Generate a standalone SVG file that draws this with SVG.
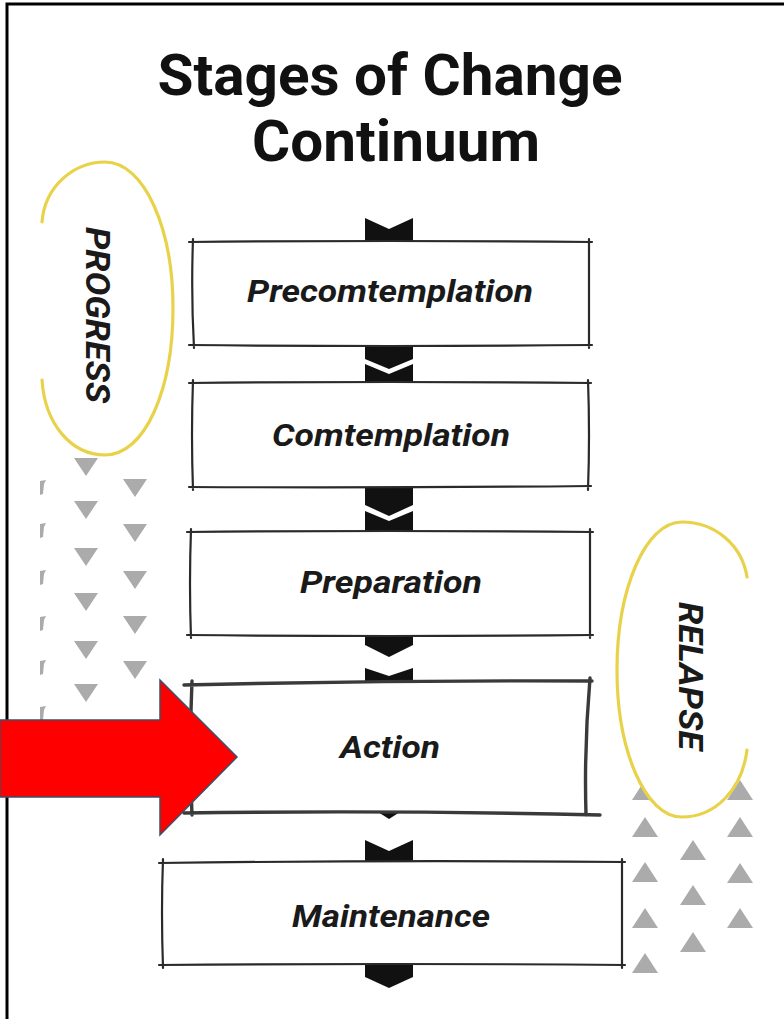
<svg xmlns="http://www.w3.org/2000/svg" xmlns:xlink="http://www.w3.org/1999/xlink" width="784" height="1019" viewBox="0 0 784 1019">
  <defs>
    <style>
      .title { font-family: Roboto, "Liberation Sans", sans-serif; font-weight: 700; font-size: 58px; fill: #111; text-anchor: middle; }
      .lbl { font-family: Roboto, "Liberation Sans", sans-serif; font-weight: 700; font-style: italic; font-size: 32px; fill: #1a1a1a; text-anchor: middle; }
      .side { font-family: Roboto, "Liberation Sans", sans-serif; font-weight: 700; font-style: italic; font-size: 34px; fill: #1a1a1a; text-anchor: middle; }
      .box { fill: #fff; stroke: none; }
      .edge { fill: none; stroke: #2a2a2a; stroke-width: 2.2; stroke-linecap: round; }
      .edge-b { fill: none; stroke: #3a3a3a; stroke-width: 3.4; stroke-linecap: round; }
      .chev { fill: #111; }
      .tri { fill: #ababab; }
      .loop { fill: #fff; stroke: #e8d24a; stroke-width: 3.2; stroke-linecap: round; }
    </style>
    <polygon id="td" points="-12,-9 12,-9 0,9"/>
    <polygon id="tu" points="0,-10 13,10 -13,10"/>
  </defs>

  <rect x="0" y="0" width="784" height="1019" fill="#fff"/>

  <!-- frame -->
  <path d="M7 1019 V4 H784" fill="none" stroke="#000" stroke-width="3"/>

  <!-- title -->
  <text class="title" x="390" y="95" textLength="465" lengthAdjust="spacingAndGlyphs">Stages of Change</text>
  <text class="title" x="396" y="161" textLength="288" lengthAdjust="spacingAndGlyphs">Continuum</text>

  <!-- left triangles (pointing down) -->
  <g class="tri">
    <use xlink:href="#td" x="86" y="467"/>
    <use xlink:href="#td" x="86" y="510"/>
    <use xlink:href="#td" x="86" y="557"/>
    <use xlink:href="#td" x="86" y="602"/>
    <use xlink:href="#td" x="86" y="650"/>
    <use xlink:href="#td" x="86" y="693"/>
    <use xlink:href="#td" x="135" y="488"/>
    <use xlink:href="#td" x="135" y="533"/>
    <use xlink:href="#td" x="135" y="580"/>
    <use xlink:href="#td" x="135" y="625"/>
    <use xlink:href="#td" x="135" y="670"/>
    <polygon points="40,481 46,480 44,484 43,494 40,495"/>
    <polygon points="40,524 46,523 44,527 43,537 40,538"/>
    <polygon points="40,571 46,570 44,574 43,584 40,585"/>
    <polygon points="40,617 46,616 44,620 43,630 40,631"/>
    <polygon points="40,661 46,660 44,664 43,674 40,675"/>
    <polygon points="40,707 46,706 44,710 43,720 40,721"/>
  </g>

  <!-- right triangles (pointing up) -->
  <g class="tri">
    <use xlink:href="#tu" x="645" y="790"/>
    <use xlink:href="#tu" x="645" y="827"/>
    <use xlink:href="#tu" x="645" y="872"/>
    <use xlink:href="#tu" x="645" y="918"/>
    <use xlink:href="#tu" x="645" y="963"/>
    <use xlink:href="#tu" x="693" y="850"/>
    <use xlink:href="#tu" x="693" y="895"/>
    <use xlink:href="#tu" x="693" y="942"/>
    <use xlink:href="#tu" x="740" y="790"/>
    <use xlink:href="#tu" x="740" y="827"/>
    <use xlink:href="#tu" x="740" y="873"/>
    <use xlink:href="#tu" x="740" y="918"/>
  </g>

  <!-- PROGRESS loop -->
  <g id="progress">
    <path class="loop" d="M42 222 C45 185 75 162 105 162 C145 162 173 230 173 308 C173 390 145 455 105 455 C72 455 45 425 42 380"/>
    <text class="side" transform="translate(86,315) rotate(90)" textLength="176" lengthAdjust="spacingAndGlyphs">PROGRESS</text>
  </g>

  <!-- RELAPSE loop -->
  <g id="relapse">
    <path class="loop" d="M747 577 C742 545 715 522 682 522 C645 522 617 590 617 670 C617 750 645 817 682 817 C715 817 742 790 747 750"/>
    <text class="side" transform="translate(679,676) rotate(90)" textLength="148" lengthAdjust="spacingAndGlyphs">RELAPSE</text>
  </g>

  <!-- connectors (chevrons) -->
  <g id="connectors" class="chev">
    <polygon points="365,218 389,229 413,218 413,243 365,243"/>
    <polygon points="365,344 413,344 413,359 389,369 365,359"/>
    <polygon points="365,364 389,374 413,364 413,384 365,384"/>
    <polygon points="365,486 413,486 413,505 389,516 365,505"/>
    <polygon points="365,511 389,521 413,511 413,533 365,533"/>
    <polygon points="365,634 413,634 413,645 389,657 365,645"/>
    <polygon points="365,668 389,676 413,668 413,684 365,684"/>
    <polygon points="378,812 400,812 389,819"/>
    <polygon points="365,840 389,851 413,840 413,863 365,863"/>
    <polygon points="365,964 413,964 413,977 389,988 365,977"/>
  </g>

  <!-- stages -->
  <g id="precontemplation">
    <rect class="box" x="192" y="242" width="397" height="103"/>
    <path class="edge" d="M189 242 Q390 240 592 242 M189 345 Q390 347 592 345 M193 239 Q191 294 194 348 M589 239 L589 348"/>
    <text class="lbl" x="390" y="302" textLength="286" lengthAdjust="spacingAndGlyphs">Precomtemplation</text>
  </g>

  <g id="contemplation">
    <rect class="box" x="192" y="383" width="396" height="104"/>
    <path class="edge" d="M189 383 Q390 381 591 383 M189 487 Q390 488 591 486 M193 380 Q191 435 193 490 M588 380 Q590 435 588 490"/>
    <text class="lbl" x="391" y="446" textLength="238" lengthAdjust="spacingAndGlyphs">Comtemplation</text>
  </g>

  <g id="preparation">
    <rect class="box" x="190" y="532" width="400" height="103"/>
    <path class="edge" d="M187 532 Q390 530 593 532 M187 635 Q390 637 593 635 M191 529 Q189 584 191 638 M590 529 L590 638"/>
    <text class="lbl" x="391" y="593" textLength="182" lengthAdjust="spacingAndGlyphs">Preparation</text>
  </g>

  <g id="action">
    <rect class="box" x="190" y="683" width="398" height="130"/>
    <path class="edge-b" d="M184 685 Q390 680 592 681 M184 813 Q390 810 600 815 M192 681 Q189 748 192 815 M590 678 Q584 748 586 815"/>
    <text class="lbl" x="390" y="758" textLength="100" lengthAdjust="spacingAndGlyphs">Action</text>
  </g>

  <g id="maintenance">
    <rect class="box" x="162" y="862" width="460" height="103"/>
    <path class="edge" d="M159 863 Q390 860 625 862 M159 965 Q390 963 625 965 M163 859 Q161 912 163 968 M622 859 L622 968"/>
    <text class="lbl" x="391" y="927" textLength="198" lengthAdjust="spacingAndGlyphs">Maintenance</text>
  </g>

  <!-- red arrow -->
  <polygon points="0,720 160,720 160,680 237,757 160,835 160,797 0,797" fill="#ff0000" stroke="#3e4f66" stroke-width="1.5" stroke-linejoin="miter"/>
</svg>
